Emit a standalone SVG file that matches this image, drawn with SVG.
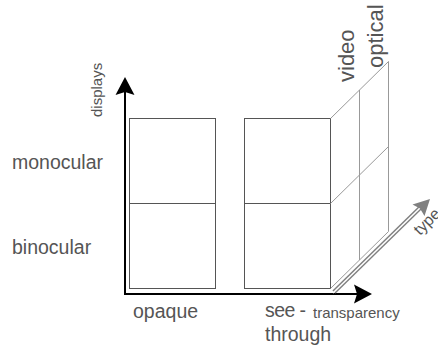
<svg xmlns="http://www.w3.org/2000/svg" width="438" height="348" viewBox="0 0 438 348">
<style>
.lbl{font-family:"Liberation Sans",Arial,sans-serif;fill:#555;}
.box{fill:none;stroke:#555;stroke-width:1;}
.persp{fill:none;stroke:#999;stroke-width:1;}
.axis{stroke:#000;stroke-width:2;fill:none;}
</style>
<rect width="438" height="348" fill="#fff"/>
<g id="connectors">
<line class="axis" x1="125" y1="295" x2="125" y2="88"/>
<path d="M125,77 L134.5,95 L125,92 L115.5,95 Z" fill="#000"/>
<line class="axis" x1="124" y1="294" x2="362" y2="294"/>
<path d="M372,294 L354,284.5 L357,294 L354,303.5 Z" fill="#000"/>
<g id="type-axis">
<line x1="334" y1="292" x2="422" y2="206" stroke="#808080" stroke-width="4.5"/>
<line x1="333" y1="293" x2="421" y2="207" stroke="#fff" stroke-width="1.6"/>
<path d="M430,199 L424.5,216 L420,208.5 L412.5,204.5 Z" fill="#808080"/>
</g>
</g>
<g id="opaque-cells">
<rect class="box" x="129.5" y="118.5" width="86" height="170"/>
<line class="box" x1="129.5" y1="203.5" x2="215.5" y2="203.5"/>
</g>
<g id="seethrough-cells">
<rect class="box" x="244.5" y="118.5" width="86" height="170"/>
<line class="box" x1="244.5" y1="203.5" x2="330.5" y2="203.5"/>
</g>
<g id="type-planes">
<line class="persp" x1="330.5" y1="118.5" x2="388.5" y2="61.5"/>
<line class="persp" x1="330.5" y1="203.5" x2="388.5" y2="146.5"/>
<line class="persp" x1="330.5" y1="288.5" x2="388.5" y2="231.5"/>
<line class="persp" x1="359.5" y1="90" x2="359.5" y2="260"/>
<line class="persp" x1="388.5" y1="61.5" x2="388.5" y2="231.5"/>
</g>
<g id="labels">
<text class="lbl" x="12" y="169" font-size="19.5">monocular</text>
<text class="lbl" x="12" y="254" font-size="19.5">binocular</text>
<text class="lbl" font-size="15" transform="translate(102,117) rotate(-90)" fill="#333">displays</text>
<text class="lbl" x="133" y="318" font-size="19.5">opaque</text>
<text class="lbl" x="265" y="317" font-size="19.5" letter-spacing="-0.6">see -</text>
<text class="lbl" x="265" y="341" font-size="19.5">through</text>
<text class="lbl" x="313" y="318" font-size="15" fill="#333">transparency</text>
<text class="lbl" font-size="22" fill="#999" transform="translate(354,82) rotate(-90)">video</text>
<text class="lbl" font-size="22" fill="#999" transform="translate(383,68) rotate(-90)">optical</text>
<text class="lbl" font-size="16" fill="#999" transform="translate(420,236) rotate(-45)">type</text>
</g>
</svg>
